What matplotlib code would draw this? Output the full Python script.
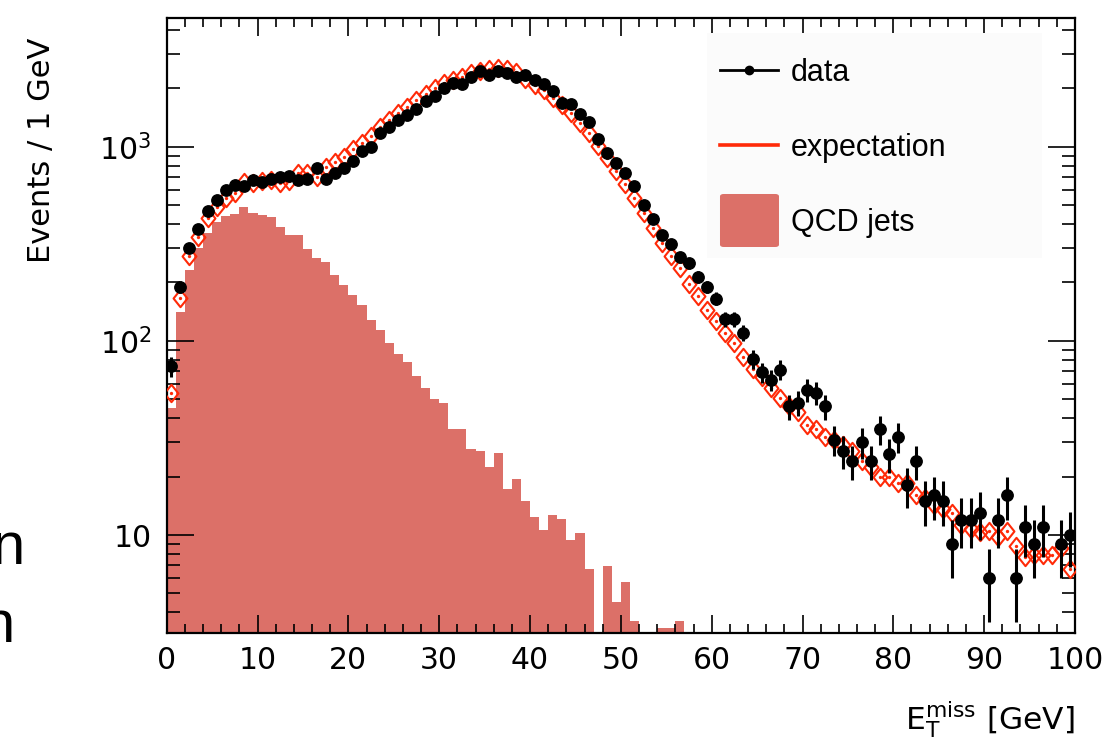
import numpy as np
import matplotlib
matplotlib.use("Agg")
import matplotlib.pyplot as plt
from matplotlib.path import Path
from matplotlib.lines import Line2D
from matplotlib.patches import Rectangle, FancyBboxPatch
from matplotlib.ticker import MultipleLocator, FixedLocator, FixedFormatter, LogLocator, NullFormatter

# 1 GeV bins from 0 to 100 GeV
bin_edges = np.arange(0, 101, 1)

# observed events per bin (bin 97 is empty)
data = [74, 190, 302, 378, 468, 530, 598, 635, 628, 671,
        661, 682, 698, 704, 671, 682, 780, 680, 730, 774,
        847, 953, 1000, 1180, 1268, 1372, 1455, 1559, 1719, 1832,
        2000, 2130, 2103, 2275, 2454, 2340, 2454, 2388, 2293, 2340,
        2203, 2103, 1942, 1671, 1651, 1468, 1340, 1096, 931, 821,
        729, 628, 503, 423, 351, 314, 269, 251, 213, 190,
        165, 129, 129, 110, 81, 69, 63, 71, 46, 48,
        56, 54, 46, 31, 27, 24, 30, 24, 35, 26,
        32, 18, 24, 15, 16, 15, 9, 12, 12, 13,
        6, 12, 16, 6, 11, 9, 11, np.nan, 9, 10]

# expected events per bin
expectation = [54, 167, 272, 344, 428, 491, 542, 580, 661, 648,
               666, 674, 653, 666, 730, 730, 701, 788, 831, 888,
               973, 1049, 1135, 1268, 1372, 1485, 1607, 1738, 1862, 2000,
               2118, 2203, 2290, 2405, 2450, 2520, 2540, 2500, 2420, 2230,
               2090, 1958, 1774, 1630, 1497, 1329, 1180, 1012, 871, 750,
               643, 545, 457, 380, 318, 274, 237, 196, 171, 144,
               126, 110, 97, 83, 72, 65, 57, 51, 46, 43,
               37, 35, 32, 31, 29, 27, 24, 22.5, 20, 20,
               18.6, 18.5, 16, 15.5, 14.3, 13.6, 13, 11.3, 10.8, 10.4,
               10.5, 9.8, 10.5, 8.8, 7.7, 7.9, 7.9, 7.9, 8.6, 6.7]

# QCD multijet background per bin
qcd = [45, 140, 232, 300, 358, 411, 440, 449, 487, 457,
       445, 433, 387, 350, 350, 297, 266, 254, 218, 194,
       172, 153, 128, 114, 97, 86, 78, 66, 57, 50,
       48, 35, 35, 27.7, 27.1, 22.3, 26.3, 17.2, 19.4, 14.9,
       12.4, 10.6, 12.7, 12.1, 9.4, 10.2, 6.7, 0, 6.9, 4.5,
       5.7, 3.6, 3.15, 3.15, 3.3, 3.3, 3.6, 0, 0, 0,
       0, 0, 0, 0, 0, 0, 0, 0, 0, 0,
       0, 0, 0, 0, 0, 0, 0, 0, 0, 0,
       0, 0, 0, 0, 0, 0, 0, 0, 0, 0,
       0, 0, 0, 0, 0, 0, 0, 0, 0, 0]

legend_labels = ["data", "expectation", "QCD jets"]
y_tick_values = [10, 100, 1000]
y_tick_labels = ["10", r"$\mathregular{10^{2}}$", r"$\mathregular{10^{3}}$"]

QCD_COLOR = "#dc7068"
EXP_COLOR = "#ff2a08"
LEGEND_FONT = "Liberation Sans"

plt.rcParams["font.family"] = ["DejaVu Sans"]

fig = plt.figure(figsize=(11.11, 7.42), dpi=100)
ax = fig.add_axes([0.15004, 0.14690, 0.81755, 0.82925])
ax.set_yscale("log")
ax.set_xlim(0, 100)
ax.set_ylim(3.128, 4617)

centers = 0.5 * (bin_edges[:-1] + bin_edges[1:])
data_arr = np.array(data, dtype=float)
exp_arr = np.array(expectation, dtype=float)
qcd_arr = np.array(qcd, dtype=float)

# QCD background histogram
ax.stairs(qcd_arr, bin_edges, fill=True, baseline=1.0, color=QCD_COLOR,
          linewidth=0, zorder=1)

# expectation: open diamonds with a small central dot
diamond = Path([(0, 1), (0.8, 0), (0, -1), (-0.8, 0), (0, 1)],
               [Path.MOVETO, Path.LINETO, Path.LINETO, Path.LINETO, Path.CLOSEPOLY])
ax.plot(centers, exp_arr, linestyle="none", marker=diamond, markersize=12.5,
        markerfacecolor="none", markeredgecolor=EXP_COLOR, markeredgewidth=1.5,
        zorder=3)
ax.plot(centers, exp_arr, linestyle="none", marker="o", markersize=2.4,
        color=EXP_COLOR, markeredgewidth=0, zorder=3)

# data with Poisson error bars
ax.errorbar(centers, data_arr, yerr=np.sqrt(data_arr), fmt="o", color="black",
            markersize=8.2, elinewidth=2.2, capsize=0, zorder=4)

# axes, ticks
ax.set_axisbelow(False)
for sp in ax.spines.values():
    sp.set_linewidth(1.6)
ax.xaxis.set_major_locator(MultipleLocator(10))
ax.xaxis.set_minor_locator(MultipleLocator(2))
ax.yaxis.set_major_locator(FixedLocator(y_tick_values))
ax.yaxis.set_major_formatter(FixedFormatter(y_tick_labels))
ax.yaxis.set_minor_locator(LogLocator(base=10, subs=np.arange(2, 10)))
ax.yaxis.set_minor_formatter(NullFormatter())
ax.tick_params(axis="y", which="major", direction="in", length=19.4, width=1.2,
               left=True, right=True, labelsize=21.5, pad=11)
ax.tick_params(axis="y", which="minor", direction="in", length=9.4, width=1.2,
               left=True, right=True)
ax.tick_params(axis="x", which="major", direction="in", length=13, width=1.2,
               bottom=True, top=True, labelsize=21.5, pad=9)
ax.tick_params(axis="x", which="minor", direction="in", length=6.5, width=1.2,
               bottom=True, top=True)

# axis titles
fig.text(42 / 1111, 1 - 38 / 742, "Events / 1 GeV", rotation=90,
         ha="center", va="top", fontsize=22)
fig.text(1075 / 1111, 1 - 729 / 742, r"$\mathregular{E_{T}^{miss}}$ [GeV]",
         ha="right", va="baseline", fontsize=22.5)


# legend, laid out in axes-fraction coordinates
def ax_x(px):
    return (px - 166.7) / 908.3


def ax_y(py):
    return (633.0 - py) / 615.3


ax.add_patch(Rectangle((ax_x(707), ax_y(258)), ax_x(1042) - ax_x(707),
                       ax_y(33) - ax_y(258), transform=ax.transAxes,
                       facecolor="#fbfbfb", edgecolor="none", zorder=5))
row_y = [70, 145, 220]
hx0, hx1, tx = ax_x(720), ax_x(778), ax_x(791)
# data entry: line with a dot
ax.add_line(Line2D([hx0, hx1], [ax_y(row_y[0])] * 2, transform=ax.transAxes,
                   color="black", linewidth=2.0, zorder=6))
ax.add_line(Line2D([(hx0 + hx1) / 2], [ax_y(row_y[0])], transform=ax.transAxes,
                   color="black", marker="o", markersize=6, linestyle="none", zorder=6))
# expectation entry: red line
ax.add_line(Line2D([hx0, hx1], [ax_y(row_y[1])] * 2, transform=ax.transAxes,
                   color=EXP_COLOR, linewidth=2.6, zorder=6))
# QCD entry: filled box
ax.add_patch(FancyBboxPatch((ax_x(720), ax_y(247)), ax_x(779) - ax_x(720),
                            ax_y(194) - ax_y(247), boxstyle="round,pad=0,rounding_size=0.004",
                            transform=ax.transAxes, facecolor=QCD_COLOR,
                            edgecolor="none", zorder=6))
for label, ry in zip(legend_labels, row_y):
    ax.text(tx, ax_y(ry), label, transform=ax.transAxes, ha="left",
            va="center_baseline", fontsize=22, family=LEGEND_FONT, zorder=7)

# text fragments along the left edge of the page
fig.text(-9 / 1111, 1 - 564 / 742, "n", fontsize=43, family=LEGEND_FONT,
         ha="left", va="baseline")
fig.text(-19 / 1111, 1 - 642 / 742, "n", fontsize=43, family=LEGEND_FONT,
         ha="left", va="baseline")

fig.savefig("out.png", dpi=100)
